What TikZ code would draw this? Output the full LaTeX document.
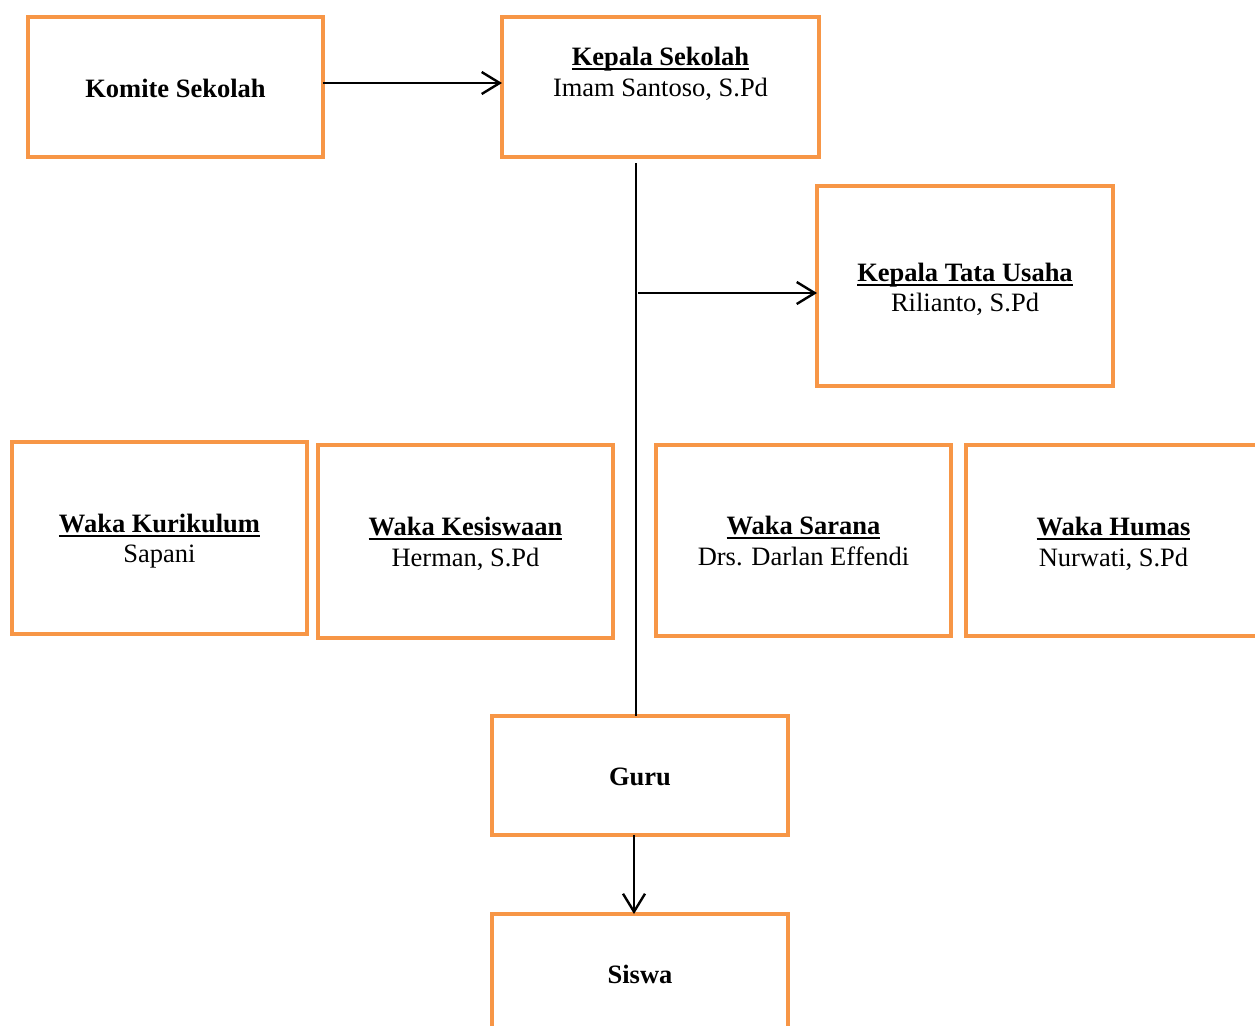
\documentclass[tikz,border=0pt]{standalone}
\usepackage{fontspec}
\setmainfont{Liberation Serif}
\usetikzlibrary{arrows.meta}
\definecolor{orangeline}{HTML}{F79646}
\newcommand\myul[1]{\setbox0\hbox{#1}\rlap{\rule[-2.6pt]{\wd0}{0.9pt}}\box0}
\begin{document}
\begin{tikzpicture}[x=0.5pt,y=-0.5pt,
  box/.style={draw=orangeline, line width=2.1pt, rectangle, outer sep=0pt, inner sep=0pt},
  txt/.style={inner sep=0pt, anchor=base, font=\fontsize{13.25}{15.5}\selectfont},
  conn/.style={draw=black, line width=1.2pt},
  arr/.style={conn, -{Straight Barb[length=9pt,width=11pt]}}]
\useasboundingbox (0,0) rectangle (1255,1025);
\clip (0,0) rectangle (1255,1025);
\fill[white] (0,0) rectangle (1255,1025);
% boxes
\node[box, minimum width=147.5pt, minimum height=70pt] (komite) at (175.5,87) {};
\node[box, minimum width=158.5pt, minimum height=70pt] (ks) at (660.5,87) {};
\node[box, minimum width=148pt, minimum height=100pt] (ktu) at (965,286) {};
\node[box, minimum width=147.5pt, minimum height=96pt] (kur) at (159.5,538) {};
\node[box, minimum width=147.5pt, minimum height=96.5pt] (kes) at (465.5,541.5) {};
\node[box, minimum width=147.5pt, minimum height=95.5pt] (sar) at (803.5,540.5) {};
\node[box, minimum width=147.5pt, minimum height=95.5pt] (hum) at (1113.5,540.5) {};
\node[box, minimum width=148pt, minimum height=59.5pt] (guru) at (640,775.5) {};
\node[box, minimum width=148pt, minimum height=59.5pt] (siswa) at (640,973.5) {};
% texts
\node[txt] (tkomite) at (175.5,97) {\textbf{Komite Sekolah}};
\node[txt] (tks1) at (660.5,65) {\myul{\textbf{Kepala Sekolah}}};
\node[txt] (tks2) at (660.5,96) {Imam Santoso, S.Pd};
\node[txt] (tktu1) at (965,281) {\myul{\textbf{Kepala Tata Usaha}}};
\node[txt] (tktu2) at (965,311) {Rilianto, S.Pd};
\node[txt] (tkur1) at (159.5,532) {\myul{\textbf{Waka Kurikulum}}};
\node[txt] (tkur2) at (159.5,562) {Sapani};
\node[txt] (tkes1) at (465.5,535) {\myul{\textbf{Waka Kesiswaan}}};
\node[txt] (tkes2) at (465.5,566) {Herman, S.Pd};
\node[txt] (tsar1) at (803.5,534) {\myul{\textbf{Waka Sarana}}};
\node[txt] (tsar2) at (803.5,565) {Drs. Darlan Effendi};
\node[txt] (thum1) at (1113.5,535) {\myul{\textbf{Waka Humas}}};
\node[txt] (thum2) at (1113.5,566) {Nurwati, S.Pd};
\node[txt] (tguru) at (640,785) {\textbf{Guru}};
\node[txt] (tsiswa) at (640,983) {\textbf{Siswa}};
% connectors
\draw[arr] ([yshift=2pt]komite.east) -- ([yshift=2pt]ks.west);
\coordinate (vtop) at (636,163);
\draw[conn] (vtop) -- (vtop |- guru.north);
\coordinate (br) at (638,293);
\draw[arr] (br) -- (br -| ktu.west);
\draw[arr] ([xshift=-3pt]guru.south) -- ([xshift=-3pt]siswa.north);
\end{tikzpicture}
\end{document}
